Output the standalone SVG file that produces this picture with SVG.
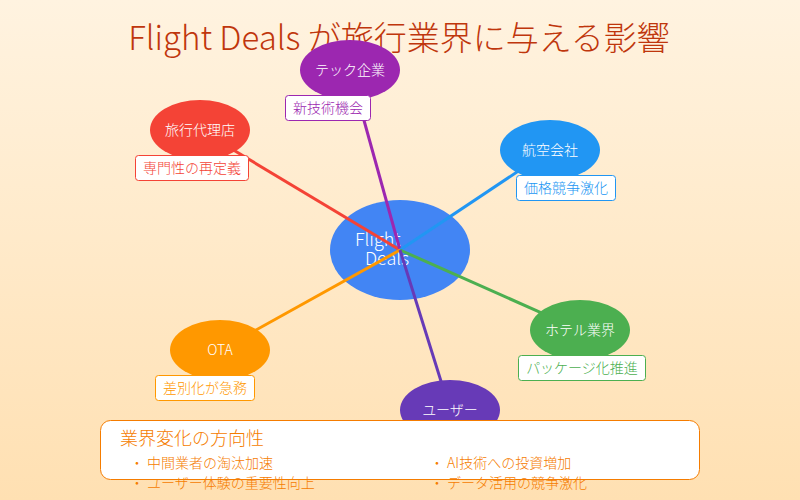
<svg xmlns="http://www.w3.org/2000/svg" width="800" height="500" viewBox="0 0 800 500">
<defs>
<linearGradient id="bg" x1="0" y1="0" x2="0" y2="1">
<stop offset="0" stop-color="#FFF3E0"/>
<stop offset="1" stop-color="#FFE0B2"/>
</linearGradient>
<style>
text{font-family:"Noto Sans CJK JP","Noto Sans",sans-serif;font-weight:300;}
.title{font-size:33px;fill:#BF360C;text-anchor:middle;}
.nt{font-size:14px;fill:#fff;text-anchor:middle;}
.lb{fill:#fff;stroke-width:1;}
.lt{font-size:14px;text-anchor:middle;}
.ln{stroke-width:3;fill:none;}
.bt{font-size:14px;fill:#F57C00;}
</style>
</defs>
<rect width="800" height="500" fill="url(#bg)"/>
<text class="title" x="399" y="50">Flight Deals が旅行業界に与える影響</text>

<g id="center">
<ellipse cx="400" cy="250" rx="70" ry="50" fill="#4285F4"/>
<text x="355" y="246" font-size="18" fill="#fff">Flight</text>
<text x="365" y="265" font-size="18" fill="#fff">Deals</text>
</g>

<g id="connectors">
<line class="ln" x1="400" y1="250" x2="200" y2="130" stroke="#F44336"/>
<line class="ln" x1="400" y1="250" x2="350" y2="70" stroke="#9C27B0"/>
<line class="ln" x1="400" y1="250" x2="550" y2="150" stroke="#2196F3"/>
<line class="ln" x1="400" y1="250" x2="220" y2="350" stroke="#FF9800"/>
<line class="ln" x1="400" y1="250" x2="580" y2="330" stroke="#4CAF50"/>
<line class="ln" x1="400" y1="250" x2="450" y2="410" stroke="#673AB7"/>
</g>

<g id="tech">
<ellipse cx="350" cy="70" rx="50" ry="30" fill="#9C27B0"/>
<text class="nt" x="350" y="75">テック企業</text>
<rect class="lb" x="285.5" y="95.5" width="85" height="25" rx="3" stroke="#9C27B0"/>
<text class="lt" x="328" y="113" fill="#9C27B0">新技術機会</text>
</g>

<g id="agency">
<ellipse cx="200" cy="130" rx="50" ry="30" fill="#F44336"/>
<text class="nt" x="200" y="135">旅行代理店</text>
<rect class="lb" x="135.5" y="155.5" width="113" height="25" rx="3" stroke="#F44336"/>
<text class="lt" x="192" y="173" fill="#F44336">専門性の再定義</text>
</g>

<g id="airline">
<ellipse cx="550" cy="150" rx="50" ry="30" fill="#2196F3"/>
<text class="nt" x="550" y="155">航空会社</text>
<rect class="lb" x="516.5" y="175.5" width="99" height="25" rx="3" stroke="#2196F3"/>
<text class="lt" x="566" y="193" fill="#2196F3">価格競争激化</text>
</g>

<g id="ota">
<ellipse cx="220" cy="350" rx="50" ry="30" fill="#FF9800"/>
<text class="nt" x="220" y="355">OTA</text>
<rect class="lb" x="155.5" y="375.5" width="99" height="25" rx="3" stroke="#FF9800"/>
<text class="lt" x="205" y="393" fill="#FF9800">差別化が急務</text>
</g>

<g id="hotel">
<ellipse cx="580" cy="330" rx="50" ry="30" fill="#4CAF50"/>
<text class="nt" x="580" y="335">ホテル業界</text>
<rect class="lb" x="518.5" y="355.5" width="127" height="25" rx="3" stroke="#4CAF50"/>
<text class="lt" x="582" y="373" fill="#4CAF50">パッケージ化推進</text>
</g>

<g id="user">
<ellipse cx="450" cy="410" rx="50" ry="30" fill="#673AB7"/>
<text class="nt" x="450" y="415">ユーザー</text>
</g>

<g id="summary">
<rect x="100.5" y="420.5" width="599" height="59" rx="10" fill="#fff" stroke="#F57C00" stroke-width="1"/>
<text x="120" y="445" font-size="18" fill="#F57C00">業界変化の方向性</text>
<text class="bt" x="130" y="468">・ 中間業者の淘汰加速</text>
<text class="bt" x="130" y="488">・ ユーザー体験の重要性向上</text>
<text class="bt" x="430" y="468">・ AI技術への投資増加</text>
<text class="bt" x="430" y="488">・ データ活用の競争激化</text>
</g>
</svg>
